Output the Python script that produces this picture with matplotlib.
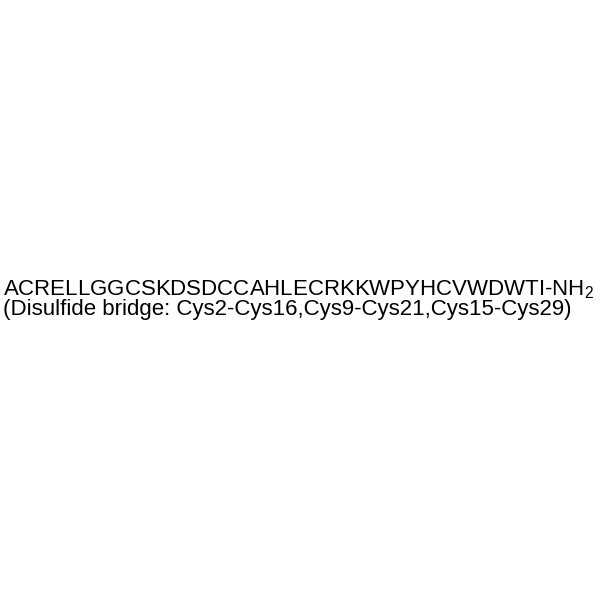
import matplotlib
matplotlib.use('Agg')
from matplotlib import pyplot as plt

plt.rcParams['font.family'] = ['Liberation Sans', 'DejaVu Sans']
plt.rcParams['mathtext.fontset'] = 'custom'
plt.rcParams['mathtext.rm'] = 'Liberation Sans'
plt.rcParams['mathtext.it'] = 'Liberation Sans'

sequence = 'ACRELLGGCSKDSDCCAHLECRKKWPYHCVWDWTI'
terminus = 'NH'
bridges = ['Cys2-Cys16', 'Cys9-Cys21', 'Cys15-Cys29']

line1 = sequence + '-' + terminus + r'$_\mathrm{2}$'
line2 = '(Disulfide bridge: ' + ','.join(bridges) + ')'

fig = plt.figure(figsize=(6, 6), dpi=100)
fig.patch.set_facecolor('white')

# both lines in one block, left edge 3 px in
fig.text(3 / 600, 1 - 299 / 600, line1 + '\n' + line2, fontsize=16.0,
         ha='left', va='center', linespacing=0.88, color='black')

fig.savefig('out.png', dpi=100)
